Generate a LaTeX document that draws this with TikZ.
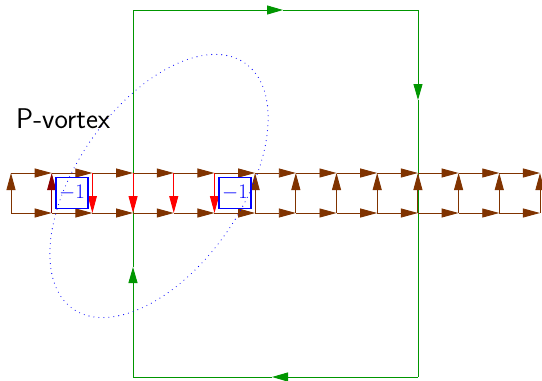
\documentclass[tikz,border=0pt]{standalone}
\usetikzlibrary{arrows.meta}
\definecolor{linkbrown}{RGB}{128,51,0}
\definecolor{linkmaroon}{RGB}{140,0,0}
\definecolor{loopgreen}{RGB}{0,150,0}
\begin{document}
\begin{tikzpicture}[x=1pt,y=-1pt,
  link/.style={draw=#1, line width=0.9pt, -{Triangle[length=17pt,width=9pt]}},
  link/.default=linkbrown,
  wline/.style={draw=loopgreen, line width=0.9pt},
  garrow/.style={wline, -{Triangle[length=16pt,width=9pt]}},
  flux/.style={draw=blue, text=blue, line width=1.1pt, minimum width=32pt,
    minimum height=31pt, inner sep=0pt, font=\fontsize{21}{24}\selectfont},
  vortex/.style={draw=blue, line width=1.1pt, line cap=round,
    dash pattern=on 0pt off 5pt},
  title/.style={font=\fontsize{28.5}{34}\selectfont\sffamily, inner sep=0pt, anchor=base west}]
\useasboundingbox (0,0) rectangle (542,381);

% lattice sites
\foreach \i in {0,...,13}{
  \coordinate (t\i) at ({11+40.69*\i},173);
  \coordinate (b\i) at ({11+40.69*\i},213);
}

% Wilson loop
\coordinate (gTL) at (133,10);
\coordinate (gTR) at (418,10);
\coordinate (gBR) at (418,377);
\coordinate (gBL) at (133,377);
\coordinate (gT) at (283,10);
\coordinate (gR) at (418,100);
\coordinate (gB) at (272,377);
\coordinate (gL) at (133,267);
\draw[garrow] (gTL) -- (gT);
\draw[wline] (gT) -- (gTR);
\draw[garrow] (gTR) -- (gR);
\draw[wline] (gR) -- (gBR);
\draw[garrow] (gBR) -- (gB);
\draw[wline] (gB) -- (gBL);
\draw[garrow] (gBL) -- (gL);
\draw[wline] (gL) -- (gTL);

% horizontal links
\foreach \i [evaluate=\i as \j using int(\i+1)] in {0,...,12}{
  \draw[link] (t\i) -- (t\j);
  \draw[link] (b\i) -- (b\j);
}

% vertical links
\draw[link] (b0) -- (t0);
\draw[link=linkmaroon] (b1) -- (t1);
\foreach \i in {2,3,4,5}{
  \draw[link=red] (t\i) -- (b\i);
}
\foreach \i in {6,...,13}{
  \draw[link] (b\i) -- (t\i);
}

% plaquette values
\node[flux] (f1) at (72,193) {$-1$};
\node[flux] (f2) at (235,193) {$-1$};

% P-vortex
\draw[vortex, rotate around={55:(159,186)}] (159,186) ellipse [x radius=150pt, y radius=82pt];
\node[title] (pv) at (16,128) {P-vortex};
\end{tikzpicture}
\end{document}
